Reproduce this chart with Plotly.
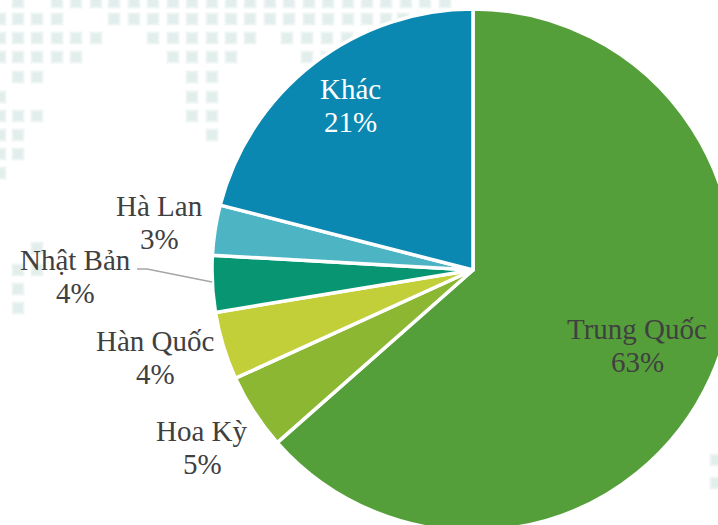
import plotly.graph_objects as go

labels = ["Trung Quốc", "Hoa Kỳ", "Hàn Quốc", "Nhật Bản", "Hà Lan", "Khác"]
values = [63.5, 4.7, 4.2, 3.5, 3.1, 21.0]
percents = ["63%", "5%", "4%", "4%", "3%", "21%"]
colors = ["#559F3A", "#8BB733", "#C2CF38", "#089672", "#4DB4C4", "#0A88B2"]
text_colors = ["#404040", "#404040", "#404040", "#404040", "#404040", "#FFFFFF"]
label_x = [637, 202, 155, 75, 159, 350]
label_y = [329, 431, 341, 260, 206, 89]
percent_y = [362, 464, 374, 293, 239, 122]

rows = {
    2: [18, 57, 76, 96, 114, 134, 153, 173, 192, 212, 231, 250, 270, 289, 309, 328, 348, 367, 386, 406, 425, 445],
    19: [0, 18, 37, 57, 114, 134, 153, 173, 192, 212, 231, 250, 270, 289, 309, 328, 348, 367, 386, 403],
    38: [0, 18, 37, 57, 76, 96, 153, 173, 192, 212, 231, 250, 287, 307, 327, 347],
    57: [0, 18, 37, 57, 76, 173, 192, 212, 231, 307, 327],
    77: [18, 37, 192, 212],
    97: [0, 192, 212],
    116: [0, 18, 37, 192, 212],
    135: [0, 18, 212],
    154: [0, 18],
    173: [0],
    248: [37],
    270: [18, 37],
    289: [18],
    308: [18],
    460: [716],
    483: [716],
}
dot_x = [x for r, xs in rows.items() for x in xs]
dot_y = [r for r, xs in rows.items() for x in xs]

W, H = 760, 538
FONT = "Times New Roman, Liberation Serif, serif"
fig = go.Figure()
fig.add_trace(go.Scatter(x=dot_x, y=dot_y, mode="markers", hoverinfo="skip", showlegend=False,
                         marker=dict(symbol="square", size=11, color="#E1EEEC",
                                     line=dict(color="#EEF5F4", width=2))))
fig.add_trace(go.Pie(labels=labels, values=values, sort=False, direction="clockwise", rotation=0,
                     textinfo="none",
                     marker=dict(colors=colors, line=dict(color="white", width=3.5)),
                     domain=dict(x=[(473 - 261) / W, (473 + 261) / W], y=[7 / H, 529 / H]),
                     showlegend=False, hoverinfo="label+percent"))

anns = []
for name, pct, c, px, ny, py in zip(labels, percents, text_colors, label_x, label_y, percent_y):
    for txt, ty in ((name, ny), (pct, py)):
        anns.append(dict(x=px, y=ty, xref="x", yref="y", text=txt, showarrow=False,
                         font=dict(family=FONT, size=29, color=c), xanchor="center", yanchor="middle"))

fig.update_layout(width=W, height=H, margin=dict(l=0, r=0, t=0, b=0), paper_bgcolor="white", plot_bgcolor="white",
                  font=dict(family=FONT, size=29, color="#404040"),
                  xaxis=dict(range=[0, W], visible=False, fixedrange=True),
                  yaxis=dict(range=[H, 0], visible=False, fixedrange=True),
                  annotations=anns,
                  shapes=[dict(type="line", xref="x", yref="y", x0=137, y0=269, x1=147, y1=269, line=dict(color="#A6A6A6", width=1.5)),
                          dict(type="line", xref="x", yref="y", x0=147, y0=269, x1=212, y1=282, line=dict(color="#A6A6A6", width=1.5))])
fig.write_html("out.html", config={"displayModeBar": False},
               post_script="document.body.style.margin='0';document.documentElement.style.overflow='hidden';document.body.style.overflow='hidden';")
